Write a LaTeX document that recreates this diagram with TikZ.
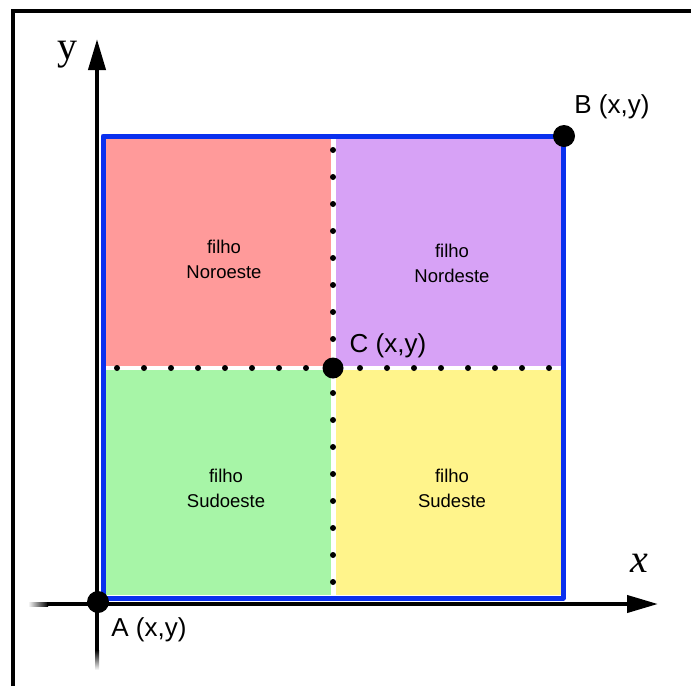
\documentclass[tikz,border=0pt]{standalone}
\usepackage{fontspec}
\newfontfamily\labfont{Liberation Sans}
\newfontfamily\axfont{Liberation Serif}
\usetikzlibrary{arrows.meta}
\definecolor{qpink}{HTML}{FF9A9A}
\definecolor{qpurple}{HTML}{D7A2F6}
\definecolor{qgreen}{HTML}{A7F5A7}
\definecolor{qyellow}{HTML}{FFF48B}
\definecolor{qblue}{HTML}{0A30EE}
\tikzset{
  qlabel/.style={font=\labfont\fontsize{18.5}{25}\selectfont, align=center, inner sep=0pt},
  plabel/.style={font=\labfont\fontsize{26}{30}\selectfont, inner sep=0pt},
  bigdot/.style={circle, fill=black, inner sep=0pt, minimum size=#1},
  smalldot/.style={circle, fill=black, inner sep=0pt, minimum size=6pt},
  axis/.style={line width=4pt, -{Triangle[length=31pt,width=17pt]}},
}
\begin{document}
\begin{tikzpicture}[x=1pt,y=-1pt]
\useasboundingbox (0,0) rectangle (691,686);
% frame
\draw[line width=3.5pt] (13,686) -- (13,11) -- (691,11);
% quadrants
\fill[qpink] (106,139) rectangle (331,366);
\fill[qpurple] (336,139) rectangle (561,366);
\fill[qgreen] (106,370) rectangle (331,595);
\fill[qyellow] (336,370) rectangle (561,595);
% boundary
\draw[qblue, line width=5pt, line join=round] (103,136) rectangle (563,598);
% dotted division lines
\foreach \k in {0,...,16} {
  \node[smalldot] at (333,150+27*\k) {};
  \node[smalldot] at (117+27*\k,368) {};
}
% axes fading ends
\shade[left color=white, right color=black] (28,602) rectangle (48,606);
\shade[top color=black, bottom color=white] (95,650) rectangle (99,670);
\coordinate (xs) at (47,604);
\coordinate (xe) at (658,604);
\coordinate (ys) at (97,651);
\coordinate (ye) at (97,39);
\draw[axis] (xs) -- (xe);
\draw[axis] (ys) -- (ye);
\node[font=\axfont\fontsize{40}{40}\selectfont, inner sep=0pt] (ylab) at (67,55) {y};
\node[font=\axfont\itshape\fontsize{40}{40}\selectfont, inner sep=0pt] (xlab) at (639,563) {x};
% points
\node[bigdot=22pt] (A) at (98,602) {};
\node[bigdot=22pt] (B) at (564,136) {};
\node[bigdot=21pt] (C) at (333,368) {};
\node[plabel] (Alab) at (149,630) {A (x,y)};
\node[plabel] (Blab) at (612,107) {B (x,y)};
\node[plabel] (Clab) at (388,346) {C (x,y)};
% quadrant labels
\node[qlabel] (NW) at (224,259) {filho\\Noroeste};
\node[qlabel] (NE) at (452,263) {filho\\Nordeste};
\node[qlabel] (SW) at (226,488) {filho\\Sudoeste};
\node[qlabel] (SE) at (452,488) {filho\\Sudeste};
\end{tikzpicture}
\end{document}
